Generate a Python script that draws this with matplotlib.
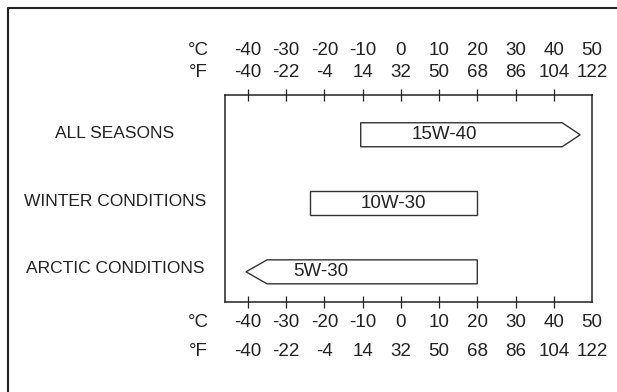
import matplotlib.pyplot as plt
import matplotlib.transforms as mtransforms
from matplotlib.lines import Line2D

plt.rcParams['font.family'] = ['Liberation Sans', 'DejaVu Sans']

# temperature scale
celsius = [-40, -30, -20, -10, 0, 10, 20, 30, 40, 50]
fahrenheit = [-40, -22, -4, 14, 32, 50, 68, 86, 104, 122]

# oil grades (row 2 at top)
conditions = ['ALL SEASONS', 'WINTER CONDITIONS', 'ARCTIC CONDITIONS']
grades = ['15W-40', '10W-30', '5W-30']
rows = [2, 1, 0]
start = [-10.5, -23.8, -35.0]
end = [42.2, 20.0, 20.0]
tip = [46.9, None, -40.5]      # arrow point, if the range is open ended
label_x = [11.5, -2.0, -20.9]

ink = '#222222'
fig = plt.figure(figsize=(6.17, 3.92), dpi=100)
ax = fig.add_axes((225 / 617, 90 / 392, 367 / 617, 207 / 392))
ax.set_xlim(-46, 50)
ax.set_ylim(-0.44, 2.58)

for s in ax.spines.values():
    s.set_color(ink)
    s.set_linewidth(1.1)

h = 0.35
for r, s, e, t, lx, g in zip(rows, start, end, tip, label_x, grades):
    xs = [s, e]
    ys = [r - h / 2, r - h / 2]
    if t is not None and t > e:
        xs += [t, e, s]
        ys += [r, r + h / 2, r + h / 2]
    elif t is not None:
        xs += [e, s, t]
        ys += [r + h / 2, r + h / 2, r]
    else:
        xs += [e, s]
        ys += [r + h / 2, r + h / 2]
    ax.fill(xs, ys, facecolor='white', edgecolor='#333333', linewidth=1.0)
    ax.text(lx, r, g, ha='center', va='center', fontsize=13.5, color=ink)

ax.set_yticks([])
ax.set_xticks(celsius[:-1])
ax.tick_params(axis='x', which='both', top=True, bottom=True, direction='inout',
               length=8, width=0.9, color=ink, labelbottom=False, labeltop=False)

# two rows of scale labels above and below the box
trans = mtransforms.blended_transform_factory(ax.transData, ax.transAxes)
for yc, yf in [(1.217, 1.111), (-0.097, -0.237)]:
    for c, f in zip(celsius, fahrenheit):
        ax.text(c, yc, str(c), transform=trans, ha='center', va='center',
                fontsize=13.5, color=ink)
        ax.text(c, yf, str(f), transform=trans, ha='center', va='center',
                fontsize=13.5, color=ink)
    ax.text(-53.0, yc, '°C', transform=trans, ha='center', va='center',
            fontsize=13.5, color=ink)
    ax.text(-53.0, yf, '°F', transform=trans, ha='center', va='center',
            fontsize=13.5, color=ink)

# row names on the left
trans2 = mtransforms.blended_transform_factory(ax.transAxes, ax.transData)
for r, name, dy in zip(rows, conditions, [0.02, 0.02, 0.05]):
    ax.text(-0.30, r + dy, name, transform=trans2, ha='center', va='center',
            fontsize=12.5, color=ink)

# outer frame (top and left edges only)
fig.add_artist(Line2D([8 / 617, 8 / 617, 1.0], [0.0, 1 - 8 / 392, 1 - 8 / 392],
                      transform=fig.transFigure, color=ink, linewidth=1.5))

fig.savefig('out.png', dpi=100)
